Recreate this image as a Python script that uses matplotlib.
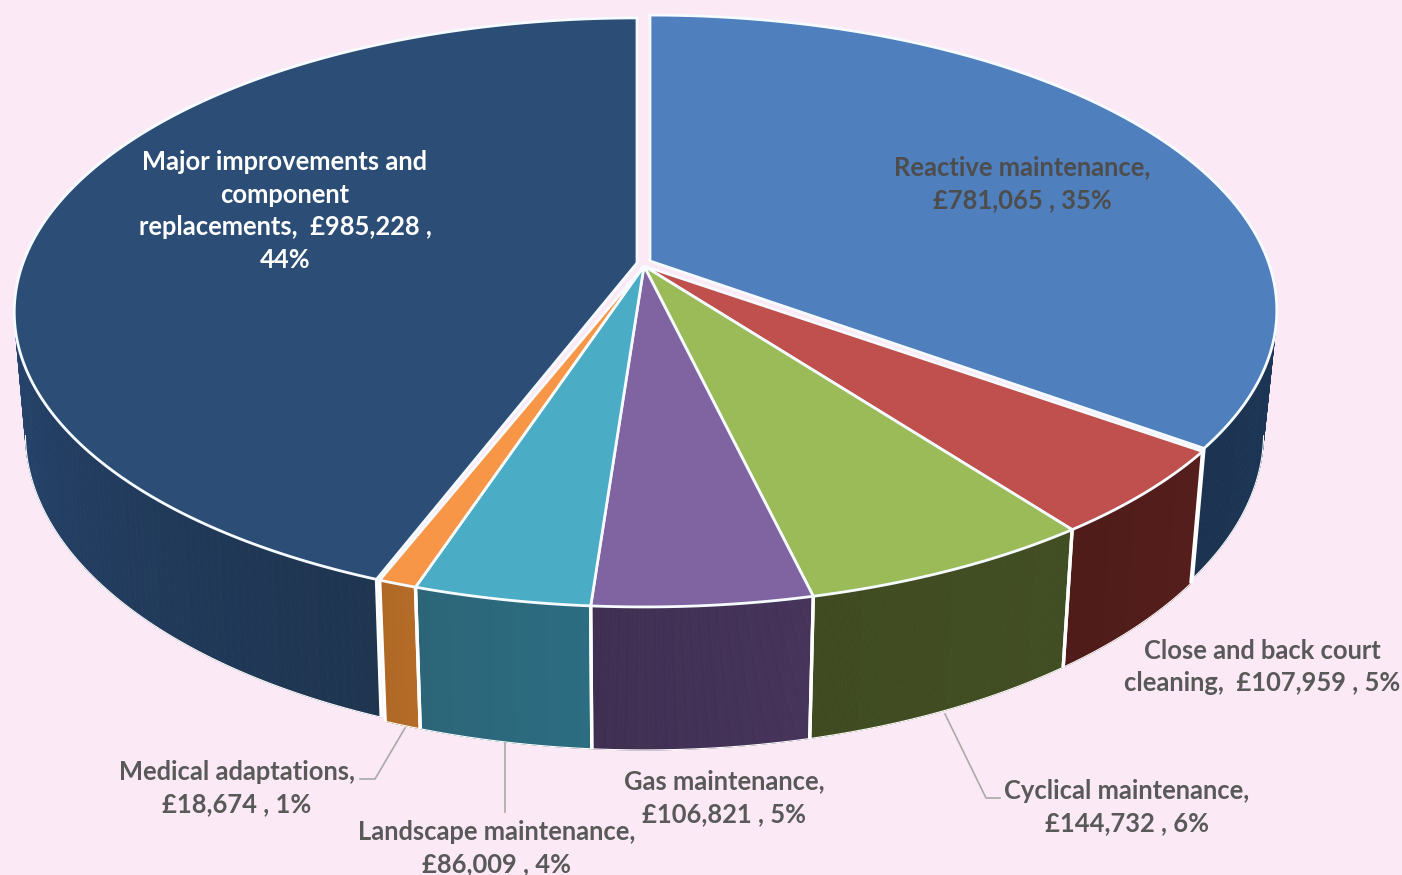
import numpy as np
import matplotlib
matplotlib.use("Agg")
import matplotlib.pyplot as plt
from matplotlib.collections import PolyCollection
from matplotlib.colors import to_rgb
from matplotlib.patches import Polygon

# Spending by category, clockwise from twelve o'clock
categories = ["Reactive maintenance", "Close and back court cleaning",
              "Cyclical maintenance", "Gas maintenance",
              "Landscape maintenance", "Medical adaptations",
              "Major improvements and component replacements"]
values = [781065, 107959, 144732, 106821, 86009, 18674, 985228]

top_colors = ["#4f7fbc", "#c0504d", "#9bbb59", "#8064a2", "#4bacc6", "#f79646", "#2c4d75"]
side_colors_a = ["#1d3757", "#551e1c", "#414d22", "#46335a", "#2c6d82", "#b56c28", "#1f3550"]
side_colors_b = ["#1b3250", "#4f1c1a", "#3f4a20", "#3e2f52", "#2c6578", "#b06826", "#25436c"]

label_templates = ["Reactive maintenance,\n{v} , {p}",
                   "Close and back court\ncleaning,  {v} , {p}",
                   "Cyclical maintenance,\n{v} , {p}",
                   "Gas maintenance,\n{v} , {p}",
                   "Landscape maintenance,\n{v} , {p}",
                   "Medical adaptations,\n{v} , {p}",
                   "Major improvements and\ncomponent\nreplacements,  {v} ,\n{p}"]
label_centers = [(1022, 184), (1262, 667), (1127, 807), (724, 798),
                 (497, 848), (237, 788), (285, 211)]
label_colors = ["#4d4d4d", "#595959", "#595959", "#595959", "#595959", "#595959", "#ffffff"]
leader_lines = [[(405, 728), (375, 779), (360, 779)],
                [(505, 743), (505, 812)],
                [(945, 714), (986, 798), (1000, 798)]]

# Projection of each slice: (apex x, apex y, half width, half depth) for top and base
PERSPECTIVE = 0.167
CENTRE = ((644, 266, 623, 284), (644, 385, 610, 304))
geometry = {0: ((650, 261, 618, 287), (650, 381, 605, 303)),
            6: ((637, 263, 614, 286), (637, 382, 603, 303))}


def project(theta, params):
    cx, cy, a, b = params
    u, v = np.sin(theta), -np.cos(theta)
    d = 1 - PERSPECTIVE * v
    return np.column_stack((cx + a * u / d, cy + b * v / d))


plt.rcParams["font.family"] = ["Lato", "DejaVu Sans"]
plt.rcParams["font.weight"] = "bold"

fig = plt.figure(figsize=(14.02, 8.75), dpi=100, facecolor="#fbeaf6")
ax = fig.add_axes([0, 0, 1, 1])
ax.set_xlim(0, 1402)
ax.set_ylim(875, 0)
ax.axis("off")

total = sum(values)
edges = 2 * np.pi * np.concatenate(([0], np.cumsum(values))) / total

# Outer wall: narrow strips so that the shade drifts around the rim
for i in range(len(values)):
    top, base = geometry.get(i, CENTRE)
    theta = np.linspace(edges[i], edges[i + 1], 200)
    theta = theta[-np.cos(theta) > PERSPECTIVE]
    upper, lower = project(theta, top), project(theta, base)
    quads = [np.vstack((upper[j], upper[j + 1], lower[j + 1], lower[j]))
             for j in range(len(theta) - 1)]
    mix = np.linspace(0, 1, len(quads))[:, None]
    ca, cb = np.array(to_rgb(side_colors_a[i])), np.array(to_rgb(side_colors_b[i]))
    shades = ca * (1 - mix) + cb * mix
    ax.add_collection(PolyCollection(quads, facecolors=shades, edgecolors=shades,
                                     linewidths=0.6, zorder=1))
    ax.plot(lower[:, 0], lower[:, 1], color="#ffffff", lw=0.8, zorder=2)
    for t in (edges[i], edges[i + 1]):
        if -np.cos(t) > 0.3:
            p, q = project(np.array([t]), top)[0], project(np.array([t]), base)[0]
            ax.plot([p[0], q[0]], [p[1], q[1]], color="#ffffff", lw=2.4,
                    solid_capstyle="butt", zorder=2)

# Top faces
for i in range(len(values)):
    top, _ = geometry.get(i, CENTRE)
    theta = np.linspace(edges[i], edges[i + 1], 300)
    outline = np.vstack(([top[0], top[1]], project(theta, top)))
    ax.add_patch(Polygon(outline, closed=True, facecolor=top_colors[i],
                         edgecolor="#f6fbff", lw=2.0, joinstyle="miter", zorder=3))

# Leader lines and data labels
for path in leader_lines:
    xs, ys = zip(*path)
    ax.plot(xs, ys, color="#a9a9a9", lw=1.2, zorder=4)

for i, value in enumerate(values):
    text = label_templates[i].format(v=f"£{value:,}", p=f"{round(100 * value / total)}%")
    ax.text(*label_centers[i], text, ha="center", va="center", fontsize=18.4,
            fontweight="bold", color=label_colors[i], linespacing=1.44, zorder=5)

fig.savefig("out.png", dpi=100, facecolor=fig.get_facecolor())
